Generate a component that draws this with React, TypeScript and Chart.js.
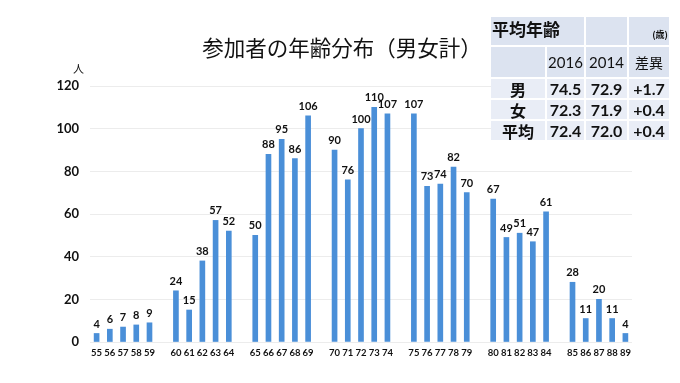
import React, { useEffect, useRef } from "react";
import { Chart, registerables } from "chart.js";

Chart.register(...registerables);

const ageGroups: number[][] = [
  [55, 56, 57, 58, 59],
  [60, 61, 62, 63, 64],
  [65, 66, 67, 68, 69],
  [70, 71, 72, 73, 74],
  [75, 76, 77, 78, 79],
  [80, 81, 82, 83, 84],
  [85, 86, 87, 88, 89],
];
const countGroups: number[][] = [
  [4, 6, 7, 8, 9],
  [24, 15, 38, 57, 52],
  [50, 88, 95, 86, 106],
  [90, 76, 100, 110, 107],
  [107, 73, 74, 82, 70],
  [67, 49, 51, 47, 61],
  [28, 11, 20, 11, 4],
];
const yTicks = [0, 20, 40, 60, 80, 100, 120];

const tableHeader = ["2016", "2014", "差異"];
const tableRows = [
  { label: "男", v2016: "74.5", v2014: "72.9", diff: "+1.7" },
  { label: "女", v2016: "72.3", v2014: "71.9", diff: "+0.4" },
  { label: "平均", v2016: "72.4", v2014: "72.0", diff: "+0.4" },
];

const labels: string[] = [];
const values: (number | null)[] = [];
ageGroups.forEach((g, gi) => {
  if (gi > 0) {
    labels.push("");
    values.push(null);
  }
  g.forEach((a, i) => {
    labels.push(String(a));
    values.push(countGroups[gi][i]);
  });
});

const NUM = "Lato, 'Noto Sans', sans-serif";
const JP = "'Noto Sans CJK JP', sans-serif";

const valueLabels = {
  id: "valueLabels",
  afterDatasetsDraw(chart: any) {
    const ctx = chart.ctx;
    const meta = chart.getDatasetMeta(0);
    ctx.save();
    ctx.font = "bold 11px " + NUM;
    ctx.fillStyle = "#111";
    ctx.textAlign = "center";
    ctx.textBaseline = "bottom";
    meta.data.forEach((bar: any, i: number) => {
      const v = values[i];
      if (v === null || v === undefined) return;
      ctx.fillText(String(v), bar.x, bar.y - 4);
    });
    ctx.restore();
  },
};

export default function App() {
  const ref = useRef<HTMLCanvasElement>(null);
  useEffect(() => {
    document.body.style.margin = "0";
    const chart = new Chart(ref.current!, {
      type: "bar",
      data: {
        labels,
        datasets: [
          {
            data: values,
            backgroundColor: "#4a8fd8",
            borderWidth: 0,
            barThickness: 5,
          },
        ],
      },
      options: {
        animation: false,
        responsive: false,
        maintainAspectRatio: false,
        layout: { padding: { left: 0, right: 48, top: 86, bottom: 0 } },
        plugins: { legend: { display: false }, tooltip: { enabled: false } },
        scales: {
          x: {
            grid: { display: false, drawTicks: false },
            border: { display: false },
            ticks: {
              autoSkip: false,
              maxRotation: 0,
              minRotation: 0,
              padding: 5,
              color: "#111",
              font: { family: NUM, size: 9.5, weight: "bold" },
            },
            afterFit: (s: any) => {
              s.height = 41;
            },
          },
          y: {
            min: 0,
            max: 120,
            afterBuildTicks: (s: any) => {
              s.ticks = yTicks.map((v) => ({ value: v }));
            },
            grid: { color: "#ececec", lineWidth: 1, drawTicks: false },
            border: { display: false },
            ticks: {
              padding: 11,
              color: "#111",
              font: { family: NUM, size: 13, weight: "bold" },
            },
            afterFit: (s: any) => {
              s.width = 90;
            },
          },
        },
      },
      plugins: [valueLabels],
    });
    return () => chart.destroy();
  }, []);

  const cellBase: React.CSSProperties = {
    display: "flex",
    alignItems: "center",
    justifyContent: "center",
    color: "#111",
  };
  const head = "#dce3f0";
  const body = "#e9edf6";

  return (
    <div style={{ position: "relative", width: 680, height: 383, background: "#fff" }}>
      <canvas ref={ref} width={680} height={383} style={{ display: "block" }} />
      <div
        style={{
          position: "absolute",
          left: 0,
          width: 684,
          top: 33,
          textAlign: "center",
          fontFamily: JP,
          fontSize: 21.5,
          lineHeight: "28px",
          color: "#111",
          whiteSpace: "nowrap",
        }}
      >
        参加者の年齢分布（男女計）
      </div>
      <div
        style={{
          position: "absolute",
          left: 73,
          top: 61,
          fontFamily: JP,
          fontSize: 11,
          lineHeight: "14px",
          color: "#111",
        }}
      >
        人
      </div>
      <div
        style={{
          position: "absolute",
          left: 491,
          top: 17,
          display: "grid",
          gridTemplateColumns: "54px 37px 41px 40px",
          gridTemplateRows: "28px 30px 19px 19px 19px",
          gap: 2,
          background: "#fff",
        }}
      >
        <div
          style={{
            ...cellBase,
            gridColumn: "1 / 3",
            background: head,
            justifyContent: "flex-start",
            paddingLeft: 1,
            fontFamily: JP,
            fontWeight: "bold",
            fontSize: 17,
            alignItems: "flex-start",
            lineHeight: "24px",
          }}
        >
          平均年齢
        </div>
        <div style={{ background: head }} />
        <div
          style={{
            ...cellBase,
            background: head,
            justifyContent: "flex-end",
            alignItems: "flex-end",
            paddingBottom: 4,
            paddingRight: 1,
            fontFamily: JP,
            fontSize: 9,
            fontWeight: "bold",
          }}
        >
          (歳)
        </div>
        <div style={{ background: head }} />
        {tableHeader.map((h, i) => (
          <div
            key={h}
            style={{
              ...cellBase,
              background: head,
              fontFamily: i === 2 ? JP : NUM,
              fontSize: i === 2 ? 14 : 15,
            }}
          >
            {h}
          </div>
        ))}
        {tableRows.map((r) => (
          <React.Fragment key={r.label}>
            <div
              style={{
                ...cellBase,
                background: body,
                fontFamily: JP,
                fontWeight: "bold",
                fontSize: 16,
              }}
            >
              {r.label}
            </div>
            {[r.v2016, r.v2014, r.diff].map((v, i) => (
              <div
                key={i}
                style={{
                  ...cellBase,
                  background: body,
                  fontFamily: NUM,
                  fontWeight: "bold",
                  fontSize: 16,
                }}
              >
                {v}
              </div>
            ))}
          </React.Fragment>
        ))}
      </div>
    </div>
  );
}
